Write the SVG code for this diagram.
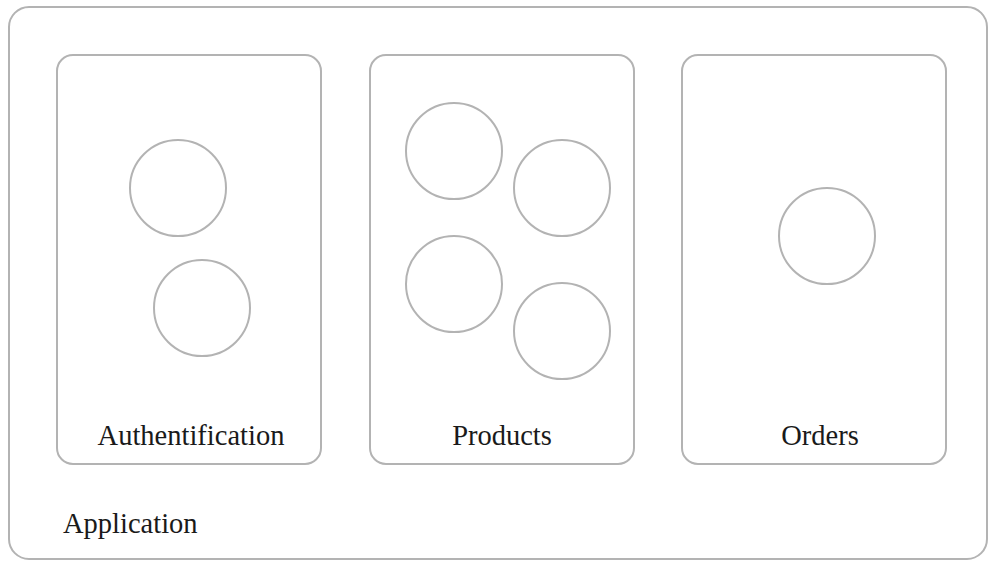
<svg xmlns="http://www.w3.org/2000/svg" width="989" height="561" viewBox="0 0 989 561">
<style>
.box{fill:#fff;stroke:#b3b3b3;stroke-width:2}
.c{fill:#fff;stroke:#b3b3b3;stroke-width:2}
.t{font-family:"Liberation Serif",serif;font-size:28.5px;fill:#1a1a1a}
</style>
<rect width="989" height="561" fill="#fff"/>
<g id="application">
<rect class="box" x="9" y="7" width="978" height="552" rx="20"/>
<text class="t" x="63" y="533">Application</text>
</g>
<g id="authentification">
<rect class="box" x="57" y="55" width="264" height="409" rx="16"/>
<text class="t" x="191" y="445" text-anchor="middle">Authentification</text>
</g>
<g id="auth-c1"><circle class="c" cx="178" cy="188" r="48"/></g>
<g id="auth-c2"><circle class="c" cx="202" cy="308" r="48"/></g>
<g id="products">
<rect class="box" x="370" y="55" width="264" height="409" rx="16"/>
<text class="t" x="502" y="445" text-anchor="middle">Products</text>
</g>
<g id="prod-c1"><circle class="c" cx="454" cy="151" r="48"/></g>
<g id="prod-c2"><circle class="c" cx="562" cy="188" r="48"/></g>
<g id="prod-c3"><circle class="c" cx="454" cy="284" r="48"/></g>
<g id="prod-c4"><circle class="c" cx="562" cy="331" r="48"/></g>
<g id="orders">
<rect class="box" x="682" y="55" width="264" height="409" rx="16"/>
<text class="t" x="820" y="445" text-anchor="middle">Orders</text>
</g>
<g id="orders-c1"><circle class="c" cx="827" cy="236" r="48"/></g>
<g id="connectors"></g>
</svg>
